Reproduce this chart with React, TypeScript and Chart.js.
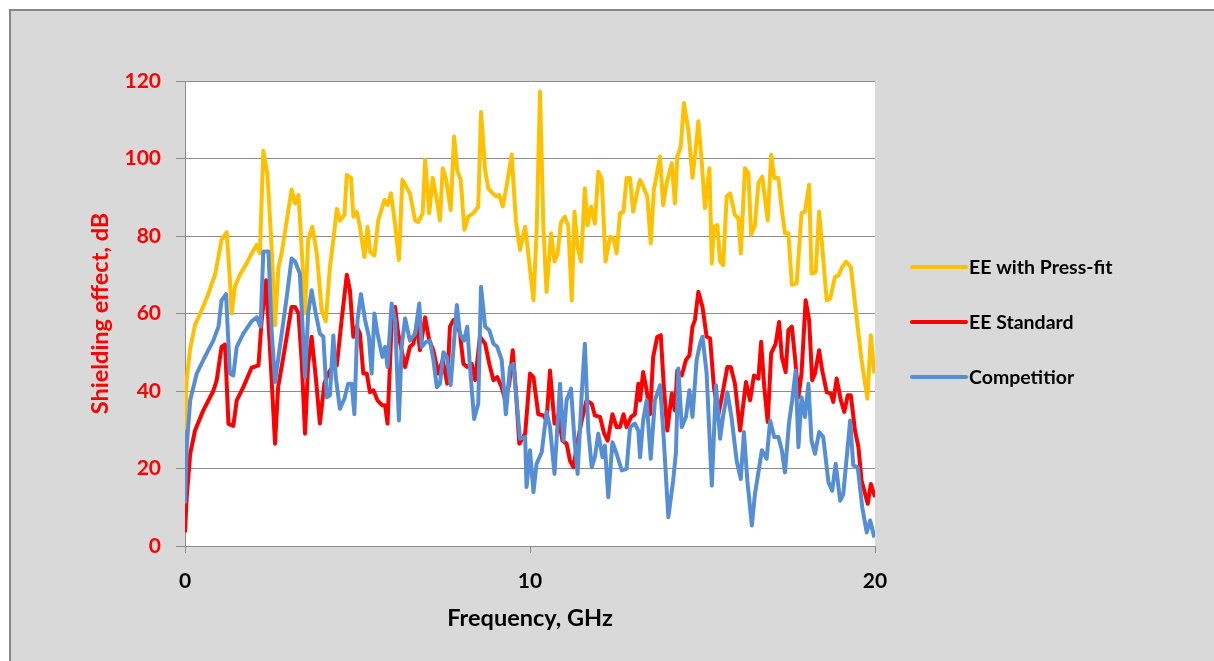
import React, { useEffect, useRef } from "react";
import { Chart, registerables } from "chart.js";

Chart.register(...registerables);

const seriesLabels = ["EE with Press-fit", "EE Standard", "Competitior"];
const seriesColors = ["#FFC000", "#FF0000", "#558ED5"];
const xTickValues = [0, 10, 20];
const yTickValues = [0, 20, 40, 60, 80, 100, 120];
const xTitle = "Frequency, GHz";
const yTitle = "Shielding effect, dB";

const pressFitFreq = [
  0.0, 0.05, 0.15, 0.29, 0.44, 0.63, 0.87, 1.06, 1.21, 1.3, 1.35, 1.45, 1.59, 1.79, 1.93, 2.08, 2.17, 2.27, 2.39, 2.51, 2.61, 2.71, 2.8, 2.95, 3.09,
  3.19, 3.29, 3.38, 3.48, 3.57, 3.69, 3.82, 3.96, 4.08, 4.2, 4.3, 4.4, 4.49, 4.62, 4.69, 4.81, 4.88, 4.98, 5.07, 5.2, 5.29, 5.36, 5.49, 5.6, 5.78, 5.87, 5.97, 6.09, 6.2, 6.3,
  6.52, 6.67, 6.76, 6.89, 6.96, 7.08, 7.18, 7.3, 7.39, 7.47, 7.57, 7.7, 7.8, 7.89, 7.99, 8.1, 8.21, 8.36, 8.5, 8.58, 8.7, 8.79, 8.92, 9.03, 9.11, 9.21, 9.32, 9.47, 9.59, 9.71,
  9.86, 9.95, 10.1, 10.19, 10.29, 10.39, 10.48, 10.61, 10.71, 10.8, 10.9, 11.01, 11.11, 11.21, 11.29, 11.38, 11.48, 11.59, 11.67, 11.77, 11.88, 11.98, 12.08, 12.19, 12.32, 12.42, 12.51, 12.61, 12.71, 12.8, 12.9, 12.99, 13.14,
  13.19, 13.28, 13.4, 13.5, 13.59, 13.77, 13.86, 13.96, 14.11, 14.2, 14.27, 14.37, 14.46, 14.59, 14.71, 14.81, 14.88, 14.98, 15.07, 15.2, 15.27, 15.33, 15.43, 15.51, 15.6, 15.7, 15.8, 15.94, 16.04, 16.11, 16.23, 16.33, 16.41,
  16.52, 16.62, 16.73, 16.89, 16.99, 17.08, 17.2, 17.3, 17.39, 17.49, 17.59, 17.73, 17.87, 17.97, 18.09, 18.16, 18.28, 18.38, 18.47, 18.6, 18.7, 18.84, 18.94, 19.05, 19.16, 19.3, 19.42, 19.61, 19.78, 19.88, 19.98,
];
const pressFitDb = [
  30, 43, 51, 57, 60, 64, 70, 79, 81, 69, 60, 67, 70, 73, 75.5, 77.7, 75.5, 102, 96, 77, 57, 72, 75.5, 84, 92,
  88.4, 90.6, 77, 60, 79, 82.4, 75.5, 60.9, 58, 72, 79, 87, 84, 85.4, 95.8, 95, 85, 86.2, 82.4, 74.6, 82.4, 76, 75, 84, 89.3, 88, 91, 83, 73.8, 94.5,
  91, 84, 83.6, 85.9, 99.7, 85.9, 95, 89.3, 84, 97.5, 94.5, 86.7, 105.7, 97, 94.5, 81.6, 85, 85.9, 87.6, 112, 97, 92.3, 91, 90.2, 90.6, 87.6, 92.8, 101, 84, 76.4,
  82.4, 75.5, 63.4, 80.7, 117.3, 81.6, 65.6, 80.7, 73.4, 75.5, 83.6, 85, 82.4, 63.4, 86.3, 77.2, 73.4, 92.3, 82.8, 87.6, 83.2, 96.6, 94.5, 73.4, 79.8, 79.4, 75.5, 85.9, 86.3, 95, 95, 86.3, 92.8,
  94.5, 92.8, 90.2, 78.1, 91.9, 100.5, 88, 93.6, 98.8, 88.4, 100.5, 103.1, 114.3, 107.4, 95, 103.1, 109.6, 98.8, 87.2, 97.5, 72.9, 82.4, 82.8, 73.4, 72.5, 90.2, 91, 85.4, 84.6, 75.5, 97.5, 96.2, 80.3,
  82.8, 93.6, 95.3, 84, 101, 95, 95, 86.7, 80.7, 80.7, 67.4, 67.8, 85.9, 86.3, 93.2, 70.3, 70.7, 86.3, 77.2, 63.4, 63.8, 69.5, 69.8, 72, 73.4, 72, 62.6, 48, 38, 54.4, 44.5,
];

const standardFreq = [
  0.0, 0.05, 0.15, 0.29, 0.53, 0.82, 0.92, 1.06, 1.16, 1.26, 1.4, 1.5, 1.69, 1.93, 2.13, 2.22, 2.35, 2.46, 2.61, 2.7, 2.9, 3.09,
  3.19, 3.29, 3.38, 3.48, 3.57, 3.67, 3.79, 3.91, 4.04, 4.15, 4.27, 4.4, 4.54, 4.69, 4.78, 4.88, 4.98, 5.07, 5.17, 5.27, 5.36, 5.46, 5.58, 5.72, 5.8, 5.87, 5.99, 6.09, 6.18, 6.38,
  6.52, 6.62, 6.72, 6.81, 6.96, 7.08, 7.2, 7.34, 7.47, 7.6, 7.68, 7.78, 7.87, 7.97, 8.07, 8.18, 8.31, 8.41, 8.55, 8.7, 8.82, 8.94, 9.05, 9.18, 9.28, 9.4, 9.5, 9.59, 9.69,
  9.86, 10.0, 10.1, 10.24, 10.39, 10.48, 10.58, 10.71, 10.82, 10.94, 11.06, 11.16, 11.26, 11.35, 11.5, 11.64, 11.79, 11.88, 12.03, 12.15, 12.25, 12.39, 12.51, 12.61, 12.71, 12.8, 12.93, 13.04, 13.14,
  13.19, 13.28, 13.38, 13.48, 13.57, 13.69, 13.79, 13.88, 13.98, 14.11, 14.2, 14.27, 14.4, 14.52, 14.62, 14.71, 14.78, 14.88, 15.0, 15.12, 15.22, 15.33, 15.46, 15.58, 15.72, 15.82, 15.94, 16.09, 16.26, 16.38, 16.49,
  16.62, 16.7, 16.79, 16.89, 16.99, 17.12, 17.22, 17.3, 17.41, 17.49, 17.59, 17.68, 17.78, 17.87, 17.99, 18.09, 18.18, 18.26, 18.38, 18.47, 18.6, 18.72, 18.79, 18.89, 19.01, 19.11, 19.21, 19.3, 19.42, 19.52, 19.61, 19.79, 19.88, 20.0,
];
const standardDb = [
  3.5, 12.6, 23.8, 29.8, 35, 40, 42.8, 51.4, 52, 31.5, 31, 37.6, 41, 46, 46.6, 58, 68.6, 51.4, 26.4, 41, 51.4, 61.7,
  61.7, 60, 48, 29, 47, 54, 43.6, 31.6, 41.9, 44.5, 46.2, 46.6, 58.3, 70, 66, 54, 56.6, 54.8, 44.5, 44.5, 39.7, 40.2, 37.6, 36.3, 36.3, 31.6, 57.4, 61.7, 54.8, 46.2,
  51.4, 52.2, 57.4, 50.5, 59, 53, 50.5, 44.5, 48, 41.9, 56.6, 58.3, 58.3, 54.8, 47, 46.2, 47, 42.8, 54, 52.2, 47, 42.8, 43.6, 41, 37.6, 41.9, 50.5, 40.2, 26.4,
  29, 44.5, 43.6, 34, 33.7, 32.4, 45.3, 31.6, 33.7, 27.2, 26.4, 22, 20.3, 25.5, 32.4, 37.6, 36.7, 33.7, 33.3, 29, 27.2, 34, 30.7, 30.7, 34, 30.7, 33.3, 34, 41.9,
  37.6, 44.9, 40.2, 34, 48.8, 54, 54.4, 41, 29.8, 39.3, 35, 45.3, 44, 48, 49.2, 56.6, 58.3, 65.6, 61.7, 54, 53.6, 41, 34, 39.3, 46.2, 46.2, 41.9, 29.8, 42.3, 37.6, 44,
  43.2, 52.7, 41, 32, 49.7, 52.2, 57.8, 48.8, 44.9, 55.7, 56.6, 48.8, 38.4, 44.5, 63.4, 58.3, 42.8, 44.5, 50.5, 45.3, 39.7, 39.3, 37.2, 43.2, 37.6, 34.6, 38.9, 38.9, 29.8, 25.5, 16.9, 10.9, 16, 12.6,
];

const competitorFreq = [
  0.0, 0.05, 0.15, 0.34, 0.53, 0.82, 0.97, 1.06, 1.19, 1.3, 1.4, 1.5, 1.69, 1.93, 2.08, 2.19, 2.27, 2.42, 2.51, 2.61, 2.75, 2.95, 3.09,
  3.19, 3.33, 3.48, 3.57, 3.67, 3.79, 3.91, 4.01, 4.11, 4.2, 4.3, 4.37, 4.49, 4.62, 4.73, 4.83, 4.91, 5.0, 5.1, 5.22, 5.33, 5.41, 5.49, 5.58, 5.72, 5.8, 5.87, 5.99, 6.09, 6.2, 6.28, 6.38,
  6.52, 6.67, 6.79, 6.86, 6.99, 7.1, 7.2, 7.3, 7.39, 7.49, 7.59, 7.7, 7.88, 7.97, 8.09, 8.18, 8.26, 8.38, 8.5, 8.58, 8.7, 8.82, 8.94, 9.05, 9.18, 9.3, 9.42, 9.52, 9.61, 9.71,
  9.86, 9.9, 10.0, 10.1, 10.19, 10.34, 10.48, 10.58, 10.71, 10.87, 10.97, 11.06, 11.19, 11.29, 11.38, 11.5, 11.59, 11.69, 11.79, 11.88, 11.98, 12.1, 12.17, 12.27, 12.39, 12.51, 12.66, 12.8, 12.9, 13.04, 13.14,
  13.19, 13.28, 13.38, 13.5, 13.62, 13.77, 13.88, 14.01, 14.15, 14.23, 14.3, 14.4, 14.52, 14.62, 14.71, 14.83, 14.93, 15.0, 15.12, 15.27, 15.39, 15.51, 15.6, 15.72, 15.84, 15.99, 16.11, 16.2, 16.3, 16.43,
  16.52, 16.62, 16.72, 16.86, 16.96, 17.08, 17.2, 17.3, 17.39, 17.51, 17.6, 17.7, 17.78, 17.87, 17.97, 18.07, 18.16, 18.26, 18.38, 18.5, 18.65, 18.76, 18.86, 18.99, 19.08, 19.18, 19.28, 19.37, 19.5, 19.63, 19.76, 19.86, 19.98,
];
const competitorDb = [
  11, 25.5, 37.6, 44.5, 48, 53, 56.6, 63.4, 65, 44.5, 44, 51.4, 54.8, 58, 59, 56.6, 76, 76, 55.7, 42.3, 51.4, 64.3, 74.2,
  73.4, 70.3, 43.6, 60, 66, 60, 54.8, 54, 38.4, 38.9, 54.3, 43.6, 35.4, 38, 41.9, 41.9, 34, 58.3, 65, 58.3, 54, 44.5, 60, 54.8, 48.8, 51.4, 46.2, 62.6, 58.3, 32.4, 51.4, 58.7,
  53, 54.8, 62.6, 51.4, 52.7, 53, 48, 41, 41.9, 50, 48.8, 41.5, 62.2, 54.8, 53, 56.6, 46.2, 32.8, 36.7, 66.9, 56.6, 55.7, 52.2, 51.4, 48, 34, 46.2, 47, 37.6, 27.7,
  28.1, 15.2, 24.7, 13.9, 21.2, 24.2, 34.6, 30.7, 18.6, 41.9, 27.2, 37.6, 40.6, 27.2, 18.6, 39.3, 52.2, 29.8, 20.3, 22.9, 29, 22.9, 25.9, 12.6, 26.8, 23.8, 19.5, 19.9, 30.7, 31.6, 29.8,
  22.9, 32.4, 37.6, 22.5, 37.6, 41.5, 27.2, 7.4, 16.9, 24.2, 45.8, 30.7, 33.3, 40.2, 33.3, 48, 52.2, 54, 44.5, 15.6, 41.5, 27.7, 33.7, 39.7, 33.3, 22, 17.3, 29.4, 16.9, 5.3,
  13.4, 19, 24.7, 22.5, 32.4, 28.1, 28.1, 24.7, 19, 32, 37.6, 45.3, 25.5, 38.4, 33.3, 41.9, 27.2, 23.8, 29.4, 28.1, 16.5, 14.3, 21.2, 11.7, 13.4, 22.9, 32.4, 20.8, 20.3, 10, 3.5, 6.6, 2.2,
];

const FONT = "Lato, 'Open Sans', sans-serif";

const toPoints = (xs: number[], ys: number[]) => xs.map((x, i) => ({ x, y: ys[i] }));

const plotBackground = {
  id: "plotBackground",
  beforeDraw(chart: any) {
    const { ctx, chartArea } = chart;
    ctx.save();
    ctx.fillStyle = "#ffffff";
    ctx.fillRect(chartArea.left, chartArea.top, chartArea.right - chartArea.left, chartArea.bottom - chartArea.top);
    ctx.restore();
  },
};

const sideLegend = {
  id: "sideLegend",
  afterDraw(chart: any) {
    const { ctx, chartArea } = chart;
    const x0 = chartArea.right + 37;
    const y0 = 256;
    const gap = 55;
    ctx.save();
    seriesLabels.forEach((label, i) => {
      const y = y0 + i * gap;
      ctx.strokeStyle = seriesColors[i];
      ctx.lineWidth = 4;
      ctx.lineCap = "round";
      ctx.beginPath();
      ctx.moveTo(x0, y);
      ctx.lineTo(x0 + 54, y);
      ctx.stroke();
      ctx.fillStyle = "#000000";
      ctx.font = `bold 19.5px ${FONT}`;
      ctx.textBaseline = "middle";
      ctx.textAlign = "left";
      ctx.fillText(label, x0 + 57, y + 1);
    });
    ctx.restore();
  },
};

export default function App() {
  const canvasRef = useRef<HTMLCanvasElement | null>(null);

  useEffect(() => {
    document.body.style.overflow = "hidden";
    const canvas = canvasRef.current;
    if (!canvas) return;
    const data = [
      toPoints(pressFitFreq, pressFitDb),
      toPoints(standardFreq, standardDb),
      toPoints(competitorFreq, competitorDb),
    ];
    const chart = new Chart(canvas, {
      type: "line",
      data: {
        datasets: seriesLabels.map((label, i) => ({
          label,
          data: data[i],
          borderColor: seriesColors[i],
          backgroundColor: seriesColors[i],
          borderWidth: 4,
          pointRadius: 0,
          tension: 0,
          fill: false,
          order: 3 - i,
          borderJoinStyle: "round" as const,
        })),
      },
      options: {
        animation: false,
        responsive: false,
        devicePixelRatio: 1,
        layout: { padding: { top: 70, right: 339, left: 0, bottom: 0 } },
        plugins: {
          legend: { display: false },
          tooltip: { enabled: false },
        },
        scales: {
          x: {
            type: "linear",
            min: 0,
            max: 20,
            afterBuildTicks: (scale: any) => {
              scale.ticks = xTickValues.map((v) => ({ value: v }));
            },
            afterFit: (scale: any) => {
              scale.height = 115;
            },
            ticks: {
              color: "#000000",
              font: { family: FONT, size: 21, weight: "bold" },
              padding: 16,
              maxRotation: 0,
            },
            grid: {
              drawOnChartArea: false,
              drawTicks: true,
              tickLength: 7,
              color: "#8c8c8c",
            },
            border: { display: true, color: "#8c8c8c", width: 1 },
            title: {
              display: true,
              text: xTitle,
              color: "#000000",
              font: { family: FONT, size: 23.5, weight: "bold" },
              padding: { top: 0, bottom: 28 },
            },
          },
          y: {
            type: "linear",
            min: 0,
            max: 120,
            afterBuildTicks: (scale: any) => {
              scale.ticks = yTickValues.map((v) => ({ value: v }));
            },
            afterFit: (scale: any) => {
              scale.width = 174;
            },
            ticks: {
              color: "#FF0000",
              font: { family: FONT, size: 21, weight: "bold" },
              padding: 15,
            },
            grid: {
              drawTicks: true,
              tickLength: 9,
              color: "#8c8c8c",
              lineWidth: 1,
            },
            border: { display: true, color: "#8c8c8c", width: 1 },
            title: {
              display: true,
              text: yTitle,
              color: "#FF0000",
              font: { family: FONT, size: 23.5, weight: "bold" },
              padding: { top: 75, bottom: 0 },
            },
          },
        },
      },
      plugins: [plotBackground, sideLegend],
    });
    return () => chart.destroy();
  }, []);

  return (
    <div
      style={{
        position: "absolute",
        left: 9,
        top: 9,
        width: 1203,
        height: 650,
        background: "#d9d9d9",
        borderTop: "2px solid #888888",
        borderLeft: "2px solid #888888",
      }}
    >
      <canvas ref={canvasRef} width={1203} height={650} style={{ display: "block", width: 1203, height: 650 }} />
    </div>
  );
}
